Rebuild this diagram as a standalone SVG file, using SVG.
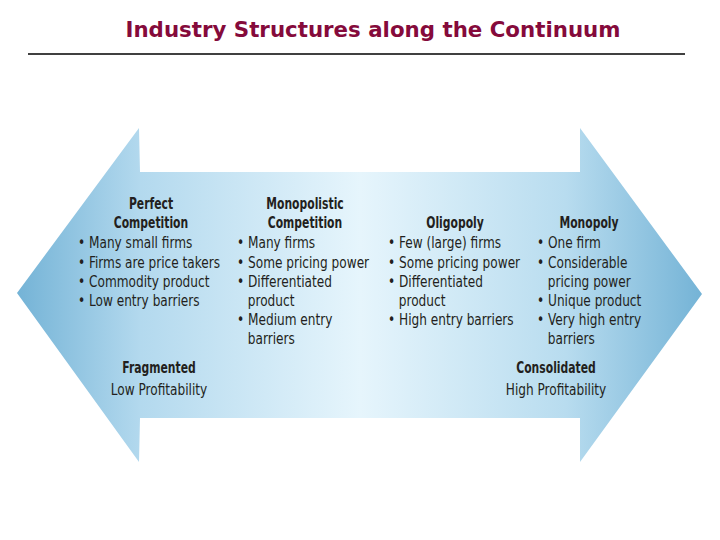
<svg xmlns="http://www.w3.org/2000/svg" width="720" height="540" viewBox="0 0 720 540">
<defs>
<linearGradient id="g" x1="17" y1="0" x2="703" y2="0" gradientUnits="userSpaceOnUse">
<stop offset="0" stop-color="#74b3d6"/>
<stop offset="0.18" stop-color="#b3d9ee"/>
<stop offset="0.5" stop-color="#e6f5fc"/>
<stop offset="0.8" stop-color="#b8dcef"/>
<stop offset="1" stop-color="#74b3d6"/>
</linearGradient>
<style>
.t{font-family:"DejaVu Sans Condensed","Liberation Sans Narrow","Liberation Sans",sans-serif;font-size:15px;fill:#231f20}
.h{font-weight:bold;text-anchor:middle}
.c{text-anchor:middle}
</style>
</defs>
<text x="373" y="37" text-anchor="middle" font-family="DejaVu Sans, Verdana, sans-serif" font-weight="bold" font-size="21" fill="#850a3b" textLength="495" lengthAdjust="spacingAndGlyphs">Industry Structures along the Continuum</text>
<line x1="28" y1="54" x2="685" y2="54" stroke="#000" stroke-width="1.3"/>
<g id="arrow">
<polygon points="17,293 139,128 140,172 580,172 580,128 702,294 580,462 580,418 140,418 139,462" fill="url(#g)"/>
</g>
<g id="connectors"></g>
<g id="perfect">
<text class="t h" transform="translate(151 209) scale(0.8 1)">Perfect</text>
<text class="t h" transform="translate(151 228) scale(0.8 1)">Competition</text>
<g transform="translate(78 0) scale(0.9 1)">
<text class="t" x="0" y="248">• Many small firms</text>
<text class="t" x="0" y="268">• Firms are price takers</text>
<text class="t" x="0" y="287">• Commodity product</text>
<text class="t" x="0" y="306">• Low entry barriers</text>
</g>
</g>
<g id="monopolistic">
<text class="t h" transform="translate(305 209) scale(0.8 1)">Monopolistic</text>
<text class="t h" transform="translate(305 228) scale(0.8 1)">Competition</text>
<g transform="translate(237 0) scale(0.9 1)">
<text class="t" x="0" y="248">• Many firms</text>
<text class="t" x="0" y="268">• Some pricing power</text>
<text class="t" x="0" y="287">• Differentiated</text>
<text class="t" x="12" y="306">product</text>
<text class="t" x="0" y="325">• Medium entry</text>
<text class="t" x="12" y="344">barriers</text>
</g>
</g>
<g id="oligopoly">
<text class="t h" transform="translate(455 228) scale(0.8 1)">Oligopoly</text>
<g transform="translate(388 0) scale(0.9 1)">
<text class="t" x="0" y="248">• Few (large) firms</text>
<text class="t" x="0" y="268">• Some pricing power</text>
<text class="t" x="0" y="287">• Differentiated</text>
<text class="t" x="12" y="306">product</text>
<text class="t" x="0" y="325">• High entry barriers</text>
</g>
</g>
<g id="monopoly">
<text class="t h" transform="translate(589 228) scale(0.8 1)">Monopoly</text>
<g transform="translate(537 0) scale(0.9 1)">
<text class="t" x="0" y="248">• One firm</text>
<text class="t" x="0" y="268">• Considerable</text>
<text class="t" x="12" y="287">pricing power</text>
<text class="t" x="0" y="306">• Unique product</text>
<text class="t" x="0" y="325">• Very high entry</text>
<text class="t" x="12" y="344">barriers</text>
</g>
</g>
<g id="fragmented">
<text class="t h" transform="translate(159 373) scale(0.8 1)">Fragmented</text>
<text class="t c" transform="translate(159 395) scale(0.9 1)">Low Profitability</text>
</g>
<g id="consolidated">
<text class="t h" transform="translate(556 373) scale(0.8 1)">Consolidated</text>
<text class="t c" transform="translate(556 395) scale(0.9 1)">High Profitability</text>
</g>
</svg>
